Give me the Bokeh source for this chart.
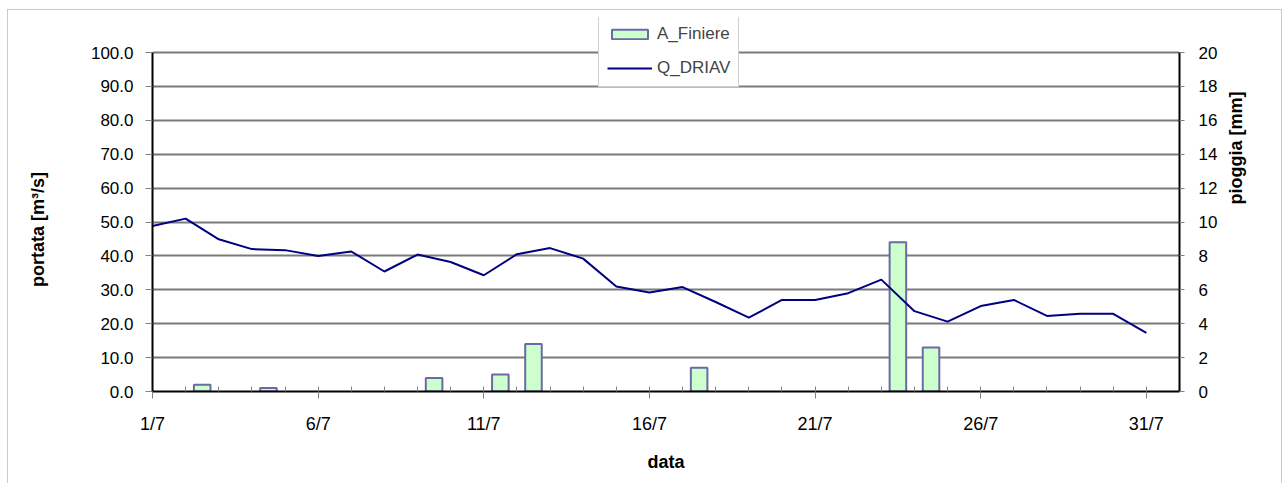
import math
from bokeh.plotting import figure
from bokeh.models import Range1d, LinearAxis, FixedTicker, NumeralTickFormatter, Legend, LegendItem, ColumnDataSource
from bokeh.transform import dodge
from bokeh.embed import file_html
from bokeh.resources import INLINE

# ---- data ----
days = list(range(1, 32))
q_driav = [48.8, 51.0, 44.9, 42.0, 41.7, 40.0, 41.3, 35.4, 40.4, 38.2,
           34.3, 40.5, 42.3, 39.2, 31.0, 29.2, 30.8, 26.4, 21.8, 27.0,
           27.0, 29.0, 33.0, 23.7, 20.6, 25.2, 27.0, 22.3, 22.9, 22.9, 17.3]
rain_days = [2, 4, 9, 11, 12, 17, 23, 24]
a_finiere = [0.4, 0.2, 0.8, 1.0, 2.8, 1.4, 8.8, 2.6]
x_tick_days = [1, 6, 11, 16, 21, 26, 31]
x_tick_labels = ["1/7", "6/7", "11/7", "16/7", "21/7", "26/7", "31/7"]

FONT = "Liberation Sans"
NB = "\u00a0"

# frame extends above the 100 line so the legend (which overlaps it) is not clipped
PLOT_H = 339      # px from 0 to 100
FRAME_H = 374     # px total frame height
ext = FRAME_H / PLOT_H

p = figure(width=1275, height=474, output_backend="svg", toolbar_location=None,
           x_range=Range1d(1, 32), y_range=Range1d(0, 100 * ext),
           min_border_left=144, min_border_right=104, min_border_top=7, min_border_bottom=93)
p.styles = {"margin-left": "7px", "margin-top": "9px",
            "border-top": "1px solid #d8c4c4", "border-left": "1px solid #d8c4c4",
            "border-right": "1px solid #d8c4c4"}
p.outline_line_color = None
p.background_fill_color = "white"
p.extra_y_ranges = {"rain": Range1d(0, 20 * ext)}

# grid
p.xgrid.grid_line_color = None
p.ygrid.ticker = FixedTicker(ticks=list(range(0, 101, 10)))
p.ygrid.grid_line_color = "#7a7a7a"
p.ygrid.grid_line_width = 2

# bars
bsrc = ColumnDataSource(dict(day=rain_days, val=a_finiere))
bars = p.vbar(x=dodge("day", 0.5, range=p.x_range), top="val", width=0.5, bottom=0,
              source=bsrc, y_range_name="rain",
              fill_color="#ccffcc", line_color="#6a6aa6", line_width=2)

# line
lsrc = ColumnDataSource(dict(day=days, q=q_driav))
ln = p.line(x="day", y="q", source=lsrc, line_color="#000080", line_width=2)

# x axis
xa = p.xaxis[0]
xa.ticker = FixedTicker(ticks=x_tick_days, minor_ticks=days + [32])
xa.major_label_overrides = {d: l for d, l in zip(x_tick_days, x_tick_labels)}
xa.axis_label = "data"
xa.axis_line_color = "black"
xa.axis_line_width = 2
xa.major_tick_in = 0
xa.major_tick_out = 7
xa.minor_tick_in = 5
xa.minor_tick_out = 0
xa.minor_tick_line_color = "#808080"
xa.major_tick_line_color = "#808080"
xa.major_label_standoff = 15
xa.axis_label_standoff = 15
xa.major_label_text_font_size = "18px"

# left y axis
ya = p.yaxis[0]
ya.bounds = (0, 100)
ya.ticker = FixedTicker(ticks=list(range(0, 101, 10)))
ya.formatter = NumeralTickFormatter(format="0.0")
ya.axis_label = "portata [m³/s]" + NB * 10
ya.axis_line_color = "black"
ya.axis_line_width = 2
ya.major_tick_in = 0
ya.major_tick_out = 7
ya.major_tick_line_color = "#808080"
ya.minor_tick_line_color = None
ya.major_label_standoff = 12
ya.axis_label_standoff = 40
ya.major_label_text_font_size = "17px"

# right y axis
ra = LinearAxis(y_range_name="rain", bounds=(0, 20),
                ticker=FixedTicker(ticks=list(range(0, 21, 2))),
                axis_label="pioggia [mm]")
ra.axis_line_color = "black"
ra.axis_line_width = 2
ra.major_tick_in = 0
ra.major_tick_out = 5
ra.major_tick_line_color = "#808080"
ra.minor_tick_line_color = None
ra.major_label_standoff = 14
ra.axis_label_standoff = 16
ra.axis_label_orientation = -3 * math.pi / 2
ra.major_label_text_font_size = "17px"
p.add_layout(ra, "right")

for ax in (xa, ya, ra):
    ax.major_label_text_font = FONT
    ax.major_label_text_color = "black"
    ax.axis_label_text_font = FONT
    ax.axis_label_text_font_size = "18px"
    ax.axis_label_text_font_style = "bold"
    ax.axis_label_text_color = "black"

legend = Legend(items=[LegendItem(label="A_Finiere", renderers=[bars]),
                       LegendItem(label="Q_DRIAV", renderers=[ln])],
                location=(446, 304))
legend.label_text_font = FONT
legend.label_text_font_size = "17px"
legend.glyph_width = 45
legend.glyph_height = 12
legend.label_height = 20
legend.label_standoff = 5
legend.spacing = 14
legend.padding = 8
legend.margin = 0
legend.border_line_color = "#a0a0a0"
legend.border_line_width = 1
legend.background_fill_alpha = 1
p.add_layout(legend, "center")

open("out.html", "w").write(file_html(p, INLINE))
